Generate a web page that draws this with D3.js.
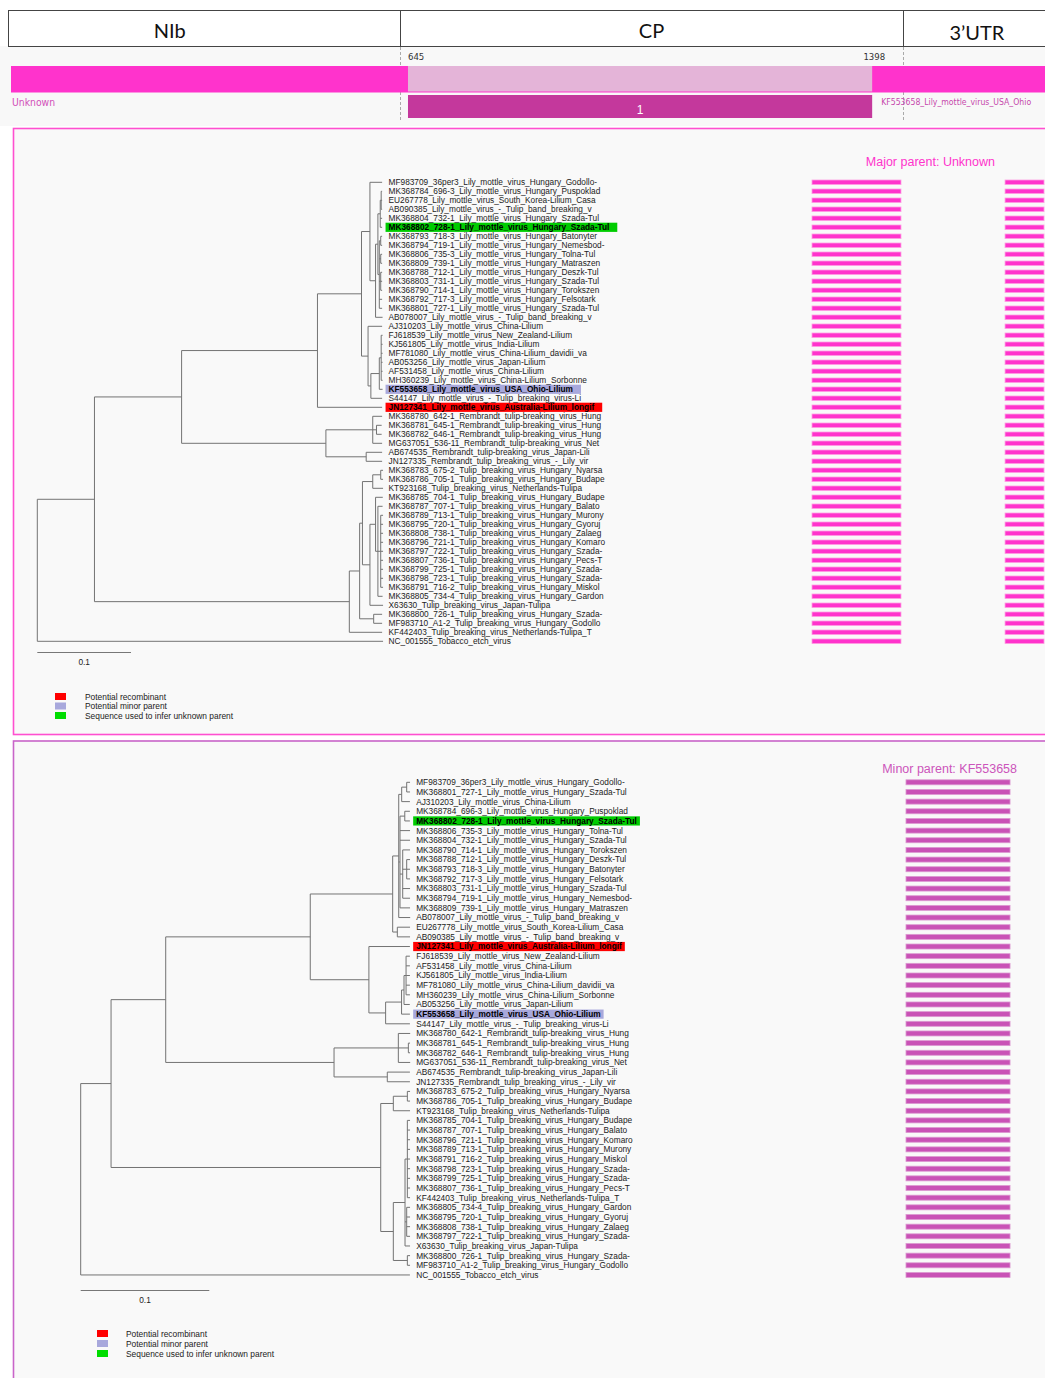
<!DOCTYPE html>
<html><head><meta charset="utf-8">
<script src="https://cdn.jsdelivr.net/npm/d3@7"></script>
<style>
html,body{margin:0;padding:0;background:#fff;}
svg{display:block;}
</style></head><body>
<svg id="chart" width="1045" height="1378"></svg>
<script>
// ---------------- DATA ----------------
const genomeLength = 1680;
const geneNames = ["NIb", "CP", "3’UTR"];
const geneStarts = [-115, 632, 1448];
const geneEnds = [632, 1448, 1688];
const breakpoints = [645, 1398];
const eventLabel = "1";
const majorParentName = "Unknown";
const minorParentName = "KF553658_Lily_mottle_virus_USA_Ohio";
const majorSegments = [[1, 645], [1398, 1680]];
const minorSegments = [[645, 1398]];
const legendLabels = ["Potential recombinant", "Potential minor parent", "Sequence used to infer unknown parent"];
const legendColors = ["#ff0000", "#a8a8dc", "#00dd00"];
const scaleBarValue = 0.1;

// Tree 1 (major parent region)
const majorTips = [
"MF983709_36per3_Lily_mottle_virus_Hungary_Godollo-",
"MK368784_696-3_Lily_mottle_virus_Hungary_Puspoklad",
"EU267778_Lily_mottle_virus_South_Korea-Lilium_Casa",
"AB090385_Lily_mottle_virus_-_Tulip_band_breaking_v",
"MK368804_732-1_Lily_mottle_virus_Hungary_Szada-Tul",
"MK368802_728-1_Lily_mottle_virus_Hungary_Szada-Tul",
"MK368793_718-3_Lily_mottle_virus_Hungary_Batonyter",
"MK368794_719-1_Lily_mottle_virus_Hungary_Nemesbod-",
"MK368806_735-3_Lily_mottle_virus_Hungary_Tolna-Tul",
"MK368809_739-1_Lily_mottle_virus_Hungary_Matraszen",
"MK368788_712-1_Lily_mottle_virus_Hungary_Deszk-Tul",
"MK368803_731-1_Lily_mottle_virus_Hungary_Szada-Tul",
"MK368790_714-1_Lily_mottle_virus_Hungary_Torokszen",
"MK368792_717-3_Lily_mottle_virus_Hungary_Felsotark",
"MK368801_727-1_Lily_mottle_virus_Hungary_Szada-Tul",
"AB078007_Lily_mottle_virus_-_Tulip_band_breaking_v",
"AJ310203_Lily_mottle_virus_China-Lilium",
"FJ618539_Lily_mottle_virus_New_Zealand-Lilium",
"KJ561805_Lily_mottle_virus_India-Lilium",
"MF781080_Lily_mottle_virus_China-Lilium_davidii_va",
"AB053256_Lily_mottle_virus_Japan-Lilium",
"AF531458_Lily_mottle_virus_China-Lilium",
"MH360239_Lily_mottle_virus_China-Lilium_Sorbonne",
"KF553658_Lily_mottle_virus_USA_Ohio-Lilium",
"S44147_Lily_mottle_virus_-_Tulip_breaking_virus-Li",
"JN127341_Lily_mottle_virus_Australia-Lilium_longif",
"MK368780_642-1_Rembrandt_tulip-breaking_virus_Hung",
"MK368781_645-1_Rembrandt_tulip-breaking_virus_Hung",
"MK368782_646-1_Rembrandt_tulip-breaking_virus_Hung",
"MG637051_536-11_Rembrandt_tulip-breaking_virus_Net",
"AB674535_Rembrandt_tulip-breaking_virus_Japan-Lili",
"JN127335_Rembrandt_tulip_breaking_virus_-_Lily_vir",
"MK368783_675-2_Tulip_breaking_virus_Hungary_Nyarsa",
"MK368786_705-1_Tulip_breaking_virus_Hungary_Budape",
"KT923168_Tulip_breaking_virus_Netherlands-Tulipa",
"MK368785_704-1_Tulip_breaking_virus_Hungary_Budape",
"MK368787_707-1_Tulip_breaking_virus_Hungary_Balato",
"MK368789_713-1_Tulip_breaking_virus_Hungary_Murony",
"MK368795_720-1_Tulip_breaking_virus_Hungary_Gyoruj",
"MK368808_738-1_Tulip_breaking_virus_Hungary_Zalaeg",
"MK368796_721-1_Tulip_breaking_virus_Hungary_Komaro",
"MK368797_722-1_Tulip_breaking_virus_Hungary_Szada-",
"MK368807_736-1_Tulip_breaking_virus_Hungary_Pecs-T",
"MK368799_725-1_Tulip_breaking_virus_Hungary_Szada-",
"MK368798_723-1_Tulip_breaking_virus_Hungary_Szada-",
"MK368791_716-2_Tulip_breaking_virus_Hungary_Miskol",
"MK368805_734-4_Tulip_breaking_virus_Hungary_Gardon",
"X63630_Tulip_breaking_virus_Japan-Tulipa",
"MK368800_726-1_Tulip_breaking_virus_Hungary_Szada-",
"MF983710_A1-2_Tulip_breaking_virus_Hungary_Godollo",
"KF442403_Tulip_breaking_virus_Netherlands-Tulipa_T",
"NC_001555_Tobacco_etch_virus"
];
const majorTipParents = ["L2","L2d","L2d","L2d","L2c","L2c","L2f","L2f","L2g","L2g","L2h","L2h","L2h","L2e","L2e","L2b",
"L3","L3d","L3d","L3d","L3d","L3d","L3d","L3c","L3b","L",
"R1","R1b","R1b","R1","R2","R2",
"Ttt","Ttt","Tt","Tm2","Tm3","Tm4","Tm4","Tm4","Tm4","Tm4","Tm4","Tm4","Tm4","Tm4","Tm3","Tm","T3","T3","T","root"];
const majorTipLengths = [0.013,0.001,0.001,0.001,0.002,0.002,0.0015,0.0015,0.0015,0.0015,0.0015,0.0015,0.0015,0.003,0.003,0.0075,
0.015,0.0015,0.0015,0.0015,0.0015,0.0015,0.0015,0.0035,0.012,0.069,
0.010,0.0055,0.0055,0.010,0.017,0.017,
0.0025,0.0025,0.011,0.0077,0.005,0.0025,0.0025,0.0025,0.0025,0.0025,0.0025,0.0025,0.0025,0.0025,0.005,0.014,0.009,0.009,0.035,0.369];
const majorInner = [
["root",null,0],["A","root",0.061],["B","A",0.093],["T","A",0.272],["L","B",0.145],["R","B",0.154],
["L1","L",0.047],["L2","L1",0.009],["L3","L1",0.007],["L2b","L2",0.006],["L2x","L2b",0.0025],
["L2c","L2x",0.0025],["L2d","L2c",0.001],["L2e","L2x",0.0015],["L2f","L2e",0.0015],["L2g","L2e",0.0015],
["L2h","L2e",0.0015],["L3b","L3",0.003],["L3c","L3b",0.009],["L3d","L3c",0.002],
["R1","R",0.050],["R1b","R1",0.004],["R2","R",0.043],
["T1","T",0.011],["Ta","T1",0.003],["T3","T1",0.015],["Tt","Ta",0.011],["Ttt","Tt",0.0085],
["Tm","Ta",0.008],["Tm2","Tm",0.006],["Tm3","Tm2",0.0025],["Tm4","Tm3",0.003]
];
const majorHighlights = [[25,"#ff0000"],[23,"#a8a8dc"],[5,"#00cc00"]];

// Tree 2 (minor parent region)
const minorTips = [
"MF983709_36per3_Lily_mottle_virus_Hungary_Godollo-",
"MK368801_727-1_Lily_mottle_virus_Hungary_Szada-Tul",
"AJ310203_Lily_mottle_virus_China-Lilium",
"MK368784_696-3_Lily_mottle_virus_Hungary_Puspoklad",
"MK368802_728-1_Lily_mottle_virus_Hungary_Szada-Tul",
"MK368806_735-3_Lily_mottle_virus_Hungary_Tolna-Tul",
"MK368804_732-1_Lily_mottle_virus_Hungary_Szada-Tul",
"MK368790_714-1_Lily_mottle_virus_Hungary_Torokszen",
"MK368788_712-1_Lily_mottle_virus_Hungary_Deszk-Tul",
"MK368793_718-3_Lily_mottle_virus_Hungary_Batonyter",
"MK368792_717-3_Lily_mottle_virus_Hungary_Felsotark",
"MK368803_731-1_Lily_mottle_virus_Hungary_Szada-Tul",
"MK368794_719-1_Lily_mottle_virus_Hungary_Nemesbod-",
"MK368809_739-1_Lily_mottle_virus_Hungary_Matraszen",
"AB078007_Lily_mottle_virus_-_Tulip_band_breaking_v",
"EU267778_Lily_mottle_virus_South_Korea-Lilium_Casa",
"AB090385_Lily_mottle_virus_-_Tulip_band_breaking_v",
"JN127341_Lily_mottle_virus_Australia-Lilium_longif",
"FJ618539_Lily_mottle_virus_New_Zealand-Lilium",
"AF531458_Lily_mottle_virus_China-Lilium",
"KJ561805_Lily_mottle_virus_India-Lilium",
"MF781080_Lily_mottle_virus_China-Lilium_davidii_va",
"MH360239_Lily_mottle_virus_China-Lilium_Sorbonne",
"AB053256_Lily_mottle_virus_Japan-Lilium",
"KF553658_Lily_mottle_virus_USA_Ohio-Lilium",
"S44147_Lily_mottle_virus_-_Tulip_breaking_virus-Li",
"MK368780_642-1_Rembrandt_tulip-breaking_virus_Hung",
"MK368781_645-1_Rembrandt_tulip-breaking_virus_Hung",
"MK368782_646-1_Rembrandt_tulip-breaking_virus_Hung",
"MG637051_536-11_Rembrandt_tulip-breaking_virus_Net",
"AB674535_Rembrandt_tulip-breaking_virus_Japan-Lili",
"JN127335_Rembrandt_tulip_breaking_virus_-_Lily_vir",
"MK368783_675-2_Tulip_breaking_virus_Hungary_Nyarsa",
"MK368786_705-1_Tulip_breaking_virus_Hungary_Budape",
"KT923168_Tulip_breaking_virus_Netherlands-Tulipa",
"MK368785_704-1_Tulip_breaking_virus_Hungary_Budape",
"MK368787_707-1_Tulip_breaking_virus_Hungary_Balato",
"MK368796_721-1_Tulip_breaking_virus_Hungary_Komaro",
"MK368789_713-1_Tulip_breaking_virus_Hungary_Murony",
"MK368791_716-2_Tulip_breaking_virus_Hungary_Miskol",
"MK368798_723-1_Tulip_breaking_virus_Hungary_Szada-",
"MK368799_725-1_Tulip_breaking_virus_Hungary_Szada-",
"MK368807_736-1_Tulip_breaking_virus_Hungary_Pecs-T",
"KF442403_Tulip_breaking_virus_Netherlands-Tulipa_T",
"MK368805_734-4_Tulip_breaking_virus_Hungary_Gardon",
"MK368795_720-1_Tulip_breaking_virus_Hungary_Gyoruj",
"MK368808_738-1_Tulip_breaking_virus_Hungary_Zalaeg",
"MK368797_722-1_Tulip_breaking_virus_Hungary_Szada-",
"X63630_Tulip_breaking_virus_Japan-Tulipa",
"MK368800_726-1_Tulip_breaking_virus_Hungary_Szada-",
"MF983710_A1-2_Tulip_breaking_virus_Hungary_Godollo",
"NC_001555_Tobacco_etch_virus"
];
const minorTipParents = ["Lg1a","Lg1a","Lg1","Lg2a","Lg2a","Lg2","Lg2","Lg2c","Lg2d","Lg2d","Lg2d","Lg2c","Lg2c","Lg2","L1a","Lg3","Lg3",
"Lb","Lf","Lf","Lf","Lf","Lf","Le","Ld","Lc",
"R1","R1b","R1b","R1","R2","R2",
"Tt1","Tt1","Tt","Tm","Tm","Tm","Tm","Tm","Tm","Tm","Tm","Tm","Tn","Tn","Tn","Tn","Tc","Td","Td","root"];
const minorTipLengths = [0.0026,0.0026,0.0064,0.004,0.004,0.0078,0.0078,0.0057,0.0026,0.0026,0.0026,0.0057,0.0057,0.0078,0.0089,0.0099,0.0099,
0.0319,0.003,0.003,0.003,0.003,0.003,0.0045,0.0065,0.0189,
0.0092,0.0013,0.0013,0.0092,0.0176,0.0176,
0.0021,0.0021,0.013,0.0021,0.0021,0.0021,0.0021,0.0021,0.0021,0.0021,0.0021,0.0021,0.0026,0.0026,0.0026,0.0026,0.0039,0.0021,0.0021,0.256];
const minorInner = [
["root",null,0],["A","root",0.0236],["B","A",0.0425],["T","A",0.2097],["L","B",0.1124],["R","B",0.1309],
["L1","L",0.0641],["Lb","L",0.0456],["L1a","L1",0.0047],["Lg3","L1",0.0036],["Lg1","L1a",0.0023],
["Lg1a","Lg1",0.0039],["Lg2","L1a",0.001],["Lg2a","Lg2",0.0037],["Lg2c","Lg2",0.0021],["Lg2d","Lg2c",0.0031],
["Lc","Lb",0.013],["Ld","Lc",0.0124],["Le","Ld",0.0019],["Lf","Le",0.0016],
["R1","R",0.05],["R1b","R1",0.0078],["R2","R",0.0414],
["Tt","T",0.0098],["Tt1","Tt",0.0109],["Tb","T",0.0098],["Tc","Tb",0.0091],["Tm","Tc",0.0018],
["Tn","Tc",0.0013],["Td","Tb",0.0109]
];
const minorHighlights = [[17,"#ff0000"],[24,"#a8a8dc"],[4,"#00cc00"]];

// ---------------- DRAWING ----------------
const svg = d3.select("#chart");
const W = 1045;
const narrow = "'Liberation Sans Narrow','Arial Narrow','DejaVu Sans Condensed',sans-serif";
const sans = "'Liberation Sans',Arial,Helvetica,sans-serif";

svg.append("rect").attr("x",0).attr("y",0).attr("width",W).attr("height",1378).attr("fill","#ffffff");
svg.append("rect").attr("x",0).attr("y",46).attr("width",W).attr("height",80).attr("fill","#f8f8f8");

// genome scale for header
const gx = d3.scaleLinear().domain([1, genomeLength]).range([11, 1046]);

// header frame
svg.append("rect").attr("x",8.5).attr("y",10.5).attr("width",1060).attr("height",36)
  .attr("fill","#fff").attr("stroke","#444").attr("stroke-width",1);
svg.selectAll("line.gdiv").data(geneStarts.slice(1)).join("line").attr("class","gdiv")
  .attr("x1",d=>Math.round(gx(d))+0.5).attr("x2",d=>Math.round(gx(d))+0.5)
  .attr("y1",10.5).attr("y2",46.5).attr("stroke","#444");
svg.selectAll("text.gname").data(geneNames).join("text").attr("class","gname")
  .attr("x",(d,i)=>(gx(geneStarts[i])+gx(geneEnds[i]))/2)
  .attr("y",(d,i)=> i===2 ? 40 : 37.5)
  .attr("text-anchor","middle").attr("font-family","Lato,'Open Sans',sans-serif")
  .attr("font-size",20).attr("fill","#111").text(d=>d);

// dashed boundary lines
svg.selectAll("line.gdash").data(geneStarts.slice(1)).join("line").attr("class","gdash")
  .attr("x1",d=>Math.round(gx(d))+0.5).attr("x2",d=>Math.round(gx(d))+0.5)
  .attr("y1",47).attr("y2",121).attr("stroke","#aaa").attr("stroke-dasharray","3,2");

// breakpoint labels
svg.append("text").attr("x",gx(breakpoints[0])).attr("y",60).attr("font-family",narrow)
  .attr("font-size",9.5).attr("fill","#333").text(breakpoints[0]);
svg.append("text").attr("x",gx(breakpoints[1])+13).attr("y",60).attr("text-anchor","end").attr("font-family",narrow)
  .attr("font-size",9.5).attr("fill","#333").text(breakpoints[1]);

// recombinant bar
svg.append("rect").attr("x",gx(1)).attr("y",66).attr("width",gx(genomeLength)-gx(1)).attr("height",26.5).attr("fill","#ff33cc");
svg.append("rect").attr("x",gx(breakpoints[0])).attr("y",66).attr("width",gx(breakpoints[1])-gx(breakpoints[0])).attr("height",25.5).attr("fill","#e4b4d8");
svg.append("rect").attr("x",gx(breakpoints[0])).attr("y",95).attr("width",gx(breakpoints[1])-gx(breakpoints[0])).attr("height",23).attr("fill","#c4389c");
svg.append("text").attr("x",(gx(breakpoints[0])+gx(breakpoints[1]))/2).attr("y",114).attr("text-anchor","middle")
  .attr("font-family",sans).attr("font-size",12).attr("fill","#fff").text(eventLabel);
svg.append("text").attr("x",gx(1)+1).attr("y",105.5).attr("font-family",narrow).attr("font-size",10.5)
  .attr("textLength",43).attr("lengthAdjust","spacingAndGlyphs")
  .attr("fill","#d24fb8").text(majorParentName);
svg.append("text").attr("x",gx(breakpoints[1])+9).attr("y",105).attr("font-family",narrow).attr("font-size",9)
  .attr("textLength",150).attr("lengthAdjust","spacingAndGlyphs")
  .attr("fill","#c648ac").text(minorParentName);

// bar scale in panels
const bx = d3.scaleLinear().domain([1, genomeLength]).range([813, 1045]);

function drawPanel(cfg) {
  const g = svg.append("g");
  g.append("rect").attr("x",13.5).attr("y",cfg.top).attr("width",1060).attr("height",cfg.height)
    .attr("fill","#f9f9f9").attr("stroke",cfg.frame).attr("stroke-width",1.6);

  const rows = cfg.inner.map(d=>({id:d[0], parent:d[1], len:d[2]}))
    .concat(cfg.tips.map((t,i)=>({id:"tip"+i, parent:cfg.tipParents[i], len:cfg.tipLengths[i], name:t, idx:i})));
  const root = d3.stratify().id(d=>d.id).parentId(d=>d.parent)(rows);
  root.eachAfter(n => { n.minIdx = n.children ? d3.min(n.children, c=>c.minIdx) : n.data.idx; });
  root.sort((a,b)=>a.minIdx-b.minIdx);
  root.eachBefore(n => { n.dist = n.parent ? n.parent.dist + n.data.len : 0; });
  const n = cfg.tips.length;
  const yS = d3.scaleLinear().domain([0, n-1]).range([cfg.y0, cfg.y0 + cfg.dy*(n-1)]);
  const xS = d3.scaleLinear().domain([0, scaleBarValue]).range([cfg.xRoot, cfg.xRoot + cfg.px01]);
  root.eachAfter(nd => { nd.yy = nd.children ? (nd.children[0].yy + nd.children[nd.children.length-1].yy)/2 : yS(nd.data.idx); });

  const lineCol = "#737373";
  const internals = root.descendants().filter(d=>d.children);
  g.selectAll("line.v").data(internals).join("line").attr("class","v")
    .attr("x1",d=>xS(d.dist)).attr("x2",d=>xS(d.dist))
    .attr("y1",d=>d.children[0].yy).attr("y2",d=>d.children[d.children.length-1].yy)
    .attr("stroke",lineCol).attr("stroke-width",1);
  g.selectAll("line.h").data(root.descendants().filter(d=>d.parent)).join("line").attr("class","h")
    .attr("x1",d=>xS(d.parent.dist)).attr("x2",d=>xS(d.dist))
    .attr("y1",d=>d.yy).attr("y2",d=>d.yy)
    .attr("stroke",lineCol).attr("stroke-width",1);

  const leaves = root.leaves();
  const labelX = xS(d3.max(leaves, d=>d.dist)) + cfg.labelGap;
  const hl = new Map(cfg.highlights.map(d=>[d[0], d[1]]));
  const hlG = g.append("g");
  const labels = g.selectAll("text.tip").data(leaves).join("text").attr("class","tip")
    .attr("x",labelX).attr("y",d=>d.yy).attr("dy","0.35em")
    .attr("font-family",sans).attr("font-size",8.3)
    .attr("font-weight",d=>hl.has(d.data.idx)?"bold":"normal")
    .attr("fill",d=>hl.has(d.data.idx)?"#000":"#222")
    .text(d=>d.data.name);
  labels.filter(d=>hl.has(d.data.idx)).each(function(d){
    const w = this.getComputedTextLength();
    hlG.append("rect").attr("x",labelX-3).attr("y",d.yy-4.6).attr("width",w+cfg.hlPad+3).attr("height",9.2)
      .attr("fill",hl.get(d.data.idx));
  });

  // bars
  const barData = [];
  leaves.forEach(l => cfg.segments.forEach(s => barData.push({y:l.yy, s:s})));
  g.selectAll("rect.bar").data(barData).join("rect").attr("class","bar")
    .attr("x",d=>bx(d.s[0]) + cfg.barShift).attr("width",d=>bx(d.s[1])-bx(d.s[0]))
    .attr("y",d=>d.y-cfg.barH/2).attr("height",cfg.barH)
    .attr("fill",cfg.barColor).attr("stroke",cfg.barStroke).attr("stroke-width",0.8);

  // title
  g.append("text").attr("x",cfg.titleX).attr("y",cfg.titleY).attr("text-anchor","end")
    .attr("font-family",sans).attr("font-size",12.5).attr("fill",cfg.titleColor).text(cfg.title);

  // scale bar
  g.append("line").attr("x1",xS(0)).attr("x2",xS(scaleBarValue)).attr("y1",cfg.sbY).attr("y2",cfg.sbY)
    .attr("stroke","#777").attr("stroke-width",1);
  g.append("text").attr("x",xS(scaleBarValue/2)).attr("y",cfg.sbY+12.5).attr("text-anchor","middle")
    .attr("font-family",sans).attr("font-size",8.3).attr("fill","#222").text(scaleBarValue);

  // legend
  legendLabels.forEach((lab,i)=>{
    g.append("rect").attr("x",cfg.legX).attr("y",cfg.legY+i*cfg.legDy).attr("width",11).attr("height",7)
      .attr("fill",legendColors[i]);
    g.append("text").attr("x",cfg.legTextX).attr("y",cfg.legY+i*cfg.legDy+6.5)
      .attr("font-family",sans).attr("font-size",8.4).attr("fill","#222").text(lab);
  });
}

drawPanel({
  top:128.5, height:606, frame:"#ff4fd0",
  tips:majorTips, tipParents:majorTipParents, tipLengths:majorTipLengths, inner:majorInner, highlights:majorHighlights,
  y0:182.3, dy:9.0, xRoot:37.3, px01:93.7, labelGap:5.5, hlPad:8,
  segments:majorSegments, barH:4.6, barColor:"#ff33cc", barStroke:"#ff9fe3", barShift:-1,
  title:"Major parent: " + majorParentName, titleX:995, titleY:166, titleColor:"#ff33cc",
  sbY:652.5, legX:55, legY:693, legDy:9.5, legTextX:85
});
drawPanel({
  top:741, height:700, frame:"#c964c9",
  tips:minorTips, tipParents:minorTipParents, tipLengths:minorTipLengths, inner:minorInner, highlights:minorHighlights,
  y0:782.3, dy:9.66, xRoot:80.7, px01:128.6, labelGap:6, hlPad:3,
  segments:minorSegments, barH:5, barColor:"#c952b6", barStroke:"#dd9ad2", barShift:4,
  title:"Minor parent: KF553658", titleX:1017, titleY:773, titleColor:"#cc55bb",
  sbY:1290.5, legX:97, legY:1330, legDy:10, legTextX:126
});
</script></body></html>
